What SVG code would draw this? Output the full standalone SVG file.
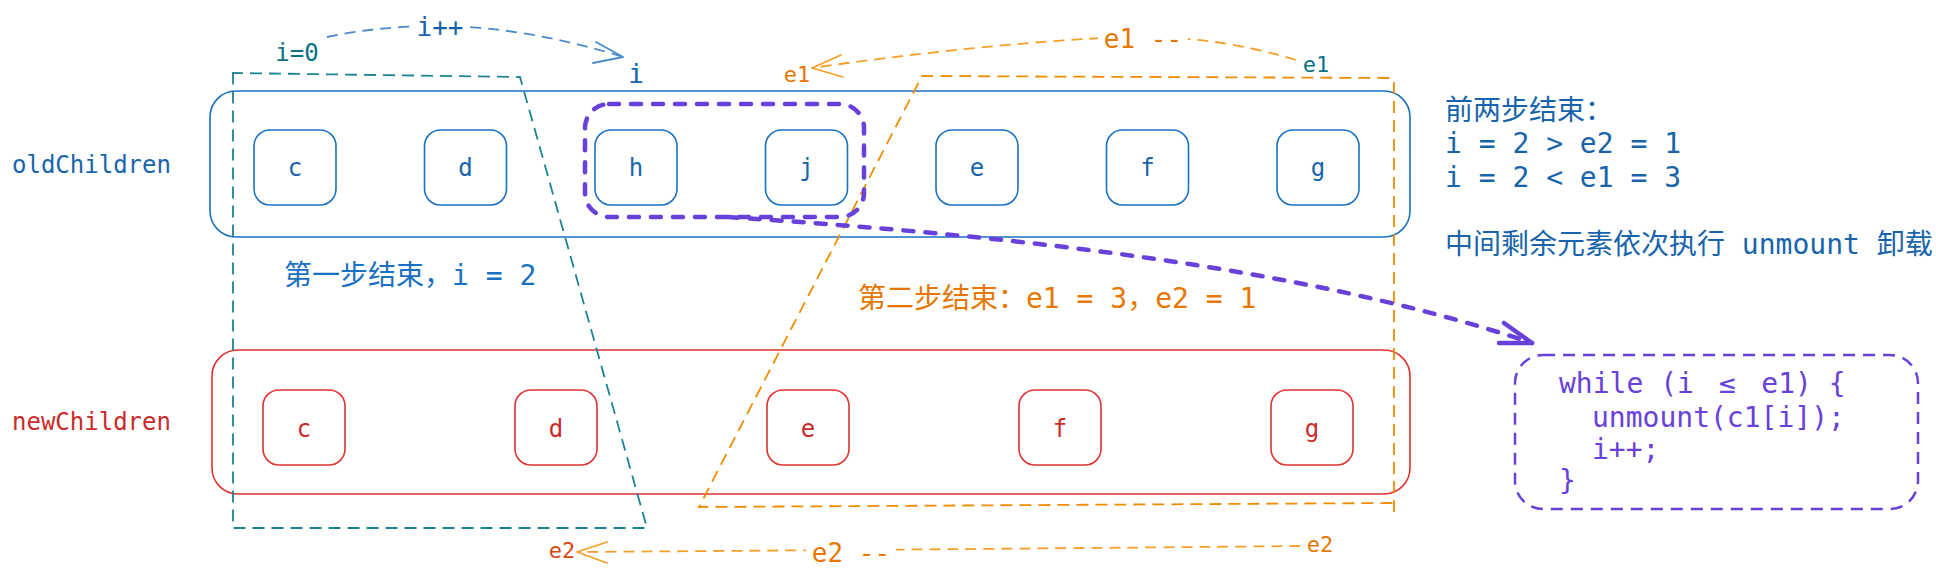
<svg xmlns="http://www.w3.org/2000/svg" width="1936" height="578" viewBox="0 0 1936 578">
<style>
text { font-family: 'DejaVu Sans Mono', 'Noto Sans CJK SC', monospace; }
.bbox { fill: none; stroke: #1971c2; stroke-width: 1.6; }
.rbox { fill: none; stroke: #e03131; stroke-width: 1.6; }
.bt { fill: #1864ab; font-size: 24px; text-anchor: middle; }
.rt { fill: #c92a2a; font-size: 24px; text-anchor: middle; }
.teal { fill: none; stroke: #1c8394; stroke-width: 1.8; stroke-dasharray: 12 7; }
.org { fill: none; stroke: #f08c00; stroke-width: 1.8; stroke-dasharray: 12 7; }
.orgA { fill: none; stroke: #f59f28; stroke-width: 1.8; stroke-dasharray: 11 7; }
.bluA { fill: none; stroke: #4a8bcb; stroke-width: 1.8; stroke-dasharray: 11 7; }
.head { fill: none; stroke-width: 1.8; stroke-linecap: round; stroke-linejoin: round; }
.pur { fill: none; stroke: #6741d9; stroke-width: 4.5; stroke-dasharray: 10 12; stroke-linecap: round; }
.purT { fill: none; stroke: #6741d9; stroke-width: 2.5; stroke-dasharray: 12 8; }
.code { fill: #6741d9; font-size: 28px; }
.note { fill: #1864ab; font-size: 28px; }
</style>
<defs>
<mask id="mBlue"><rect x="0" y="0" width="1936" height="578" fill="#fff"/><rect x="410" y="8" width="58" height="36" fill="#000"/></mask>
<mask id="mE1"><rect x="0" y="0" width="1936" height="578" fill="#fff"/><rect x="1098" y="20" width="90" height="34" fill="#000"/></mask>
<mask id="mE2"><rect x="0" y="0" width="1936" height="578" fill="#fff"/><rect x="806" y="534" width="90" height="34" fill="#000"/></mask>
</defs>
<rect x="0" y="0" width="1936" height="578" fill="#ffffff"/>

<g id="old-children">
<rect class="bbox" x="210" y="91" width="1200" height="146" rx="26"/>
<text x="12" y="173" style="fill:#1864ab;font-size:24px">oldChildren</text>
</g>
<g id="old-c"><rect class="bbox" x="254" y="130" width="82" height="75" rx="16"/><text class="bt" x="295" y="176">c</text></g>
<g id="old-d"><rect class="bbox" x="424.5" y="130" width="82" height="75" rx="16"/><text class="bt" x="465.5" y="176">d</text></g>
<g id="old-h"><rect class="bbox" x="595" y="130" width="82" height="75" rx="16"/><text class="bt" x="636" y="176">h</text></g>
<g id="old-j"><rect class="bbox" x="765.5" y="130" width="82" height="75" rx="16"/><text class="bt" x="806.5" y="176">j</text></g>
<g id="old-e"><rect class="bbox" x="936" y="130" width="82" height="75" rx="16"/><text class="bt" x="977" y="176">e</text></g>
<g id="old-f"><rect class="bbox" x="1106.5" y="130" width="82" height="75" rx="16"/><text class="bt" x="1147.5" y="176">f</text></g>
<g id="old-g"><rect class="bbox" x="1277" y="130" width="82" height="75" rx="16"/><text class="bt" x="1318" y="176">g</text></g>

<g id="new-children">
<rect class="rbox" x="212" y="350" width="1198" height="144" rx="26"/>
<text x="12" y="430" style="fill:#c92a2a;font-size:24px">newChildren</text>
</g>
<g id="new-c"><rect class="rbox" x="263" y="390" width="82" height="75" rx="16"/><text class="rt" x="304" y="437">c</text></g>
<g id="new-d"><rect class="rbox" x="515" y="390" width="82" height="75" rx="16"/><text class="rt" x="556" y="437">d</text></g>
<g id="new-e"><rect class="rbox" x="767" y="390" width="82" height="75" rx="16"/><text class="rt" x="808" y="437">e</text></g>
<g id="new-f"><rect class="rbox" x="1019" y="390" width="82" height="75" rx="16"/><text class="rt" x="1060" y="437">f</text></g>
<g id="new-g"><rect class="rbox" x="1271" y="390" width="82" height="75" rx="16"/><text class="rt" x="1312" y="437">g</text></g>

<g id="step1-region">
<path class="teal" d="M233,75 L233,73 L520,77 L647,528 L233,528 Z"/>
<text x="284" y="285" class="note" style="fill:#1971c2">第一步结束，i = 2</text>
</g>

<g id="step2-region">
<path class="org" d="M1394,512 L1394,82 Q1394,78 1390,78 L922,76 L699,507 L1394,503"/>
<text x="858" y="308" style="fill:#e67700;font-size:28px">第二步结束：e1 = 3，e2 = 1</text>
</g>

<g id="unmount-group">
<rect class="pur" x="585" y="104" width="279" height="113" rx="24"/>
</g>

<g id="code-box">
<rect class="purT" x="1515" y="355" width="403" height="154" rx="28"/>
<text class="code" x="1559" y="393"><tspan x="1559">while (i </tspan><tspan x="1719">≤</tspan><tspan x="1744.5"> e1) {</tspan></text>
<text class="code" x="1592" y="427">unmount(c1[i]);</text>
<text class="code" x="1592" y="459">i++;</text>
<text class="code" x="1559" y="490">}</text>
</g>

<g id="summary">
<text class="note" x="1445" y="120">前两步结束：</text>
<text class="note" x="1445" y="153">i = 2 &gt; e2 = 1</text>
<text class="note" x="1445" y="187">i = 2 &lt; e1 = 3</text>
<text class="note" x="1445" y="254">中间剩余元素依次执行 unmount 卸载</text>
</g>

<g id="labels">
<text x="297" y="61" style="fill:#0b7285;font-size:24px;text-anchor:middle">i=0</text>
<text x="440" y="36" style="fill:#1864ab;font-size:26px;text-anchor:middle">i++</text>
<text x="636" y="83" style="fill:#1864ab;font-size:26px;text-anchor:middle">i</text>
<text x="797" y="82" style="fill:#e67700;font-size:22px;text-anchor:middle">e1</text>
<text x="1143" y="48" style="fill:#e67700;font-size:26px;text-anchor:middle">e1 --</text>
<text x="1316" y="72" style="fill:#0b7285;font-size:22px;text-anchor:middle">e1</text>
<text x="562" y="558" style="fill:#d9480f;font-size:22px;text-anchor:middle">e2</text>
<text x="851" y="562" style="fill:#e67700;font-size:26px;text-anchor:middle">e2 --</text>
<text x="1320" y="552" style="fill:#e67700;font-size:22px;text-anchor:middle">e2</text>
</g>

<g id="connectors">
<path class="bluA" mask="url(#mBlue)" d="M327,37 C360,30 395,26 440,26 C500,26 570,40 623,57"/>
<polyline class="head" stroke="#4a8bcb" points="596,42 623,57 593,63"/>
<path class="orgA" mask="url(#mE1)" d="M1296,60 C1250,46 1200,37 1143,37 C1060,37 900,55 812,68"/>
<polyline class="head" stroke="#f59f28" points="841,55 812,68 843,77"/>
<path class="orgA" mask="url(#mE2)" d="M1300,546 Q1000,549 577,552"/>
<polyline class="head" stroke="#f59f28" points="607,542 577,552 607,563"/>
<path class="pur" d="M728,217 C1000,235 1300,265 1532,343"/>
<polyline fill="none" stroke="#6741d9" stroke-width="4.5" stroke-linecap="round" stroke-linejoin="round" points="1504,323 1532,343 1499,343"/>
</g>
</svg>
